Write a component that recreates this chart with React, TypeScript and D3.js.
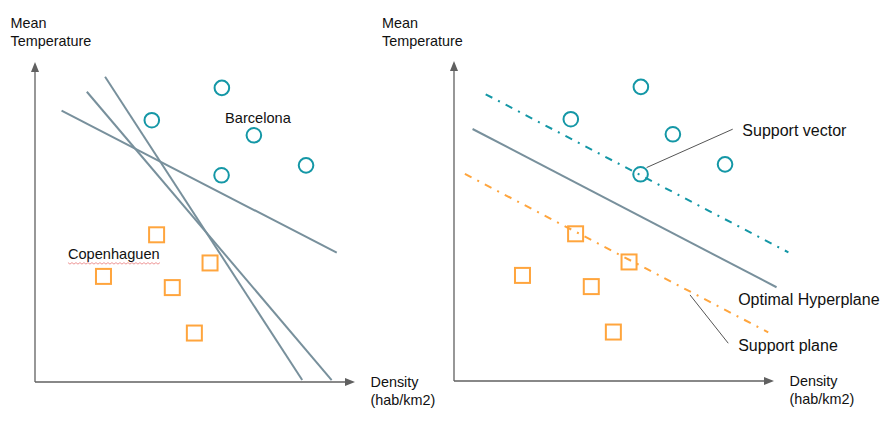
import React from "react";
import * as d3 from "d3";

// ---- data (arbitrary units: density 0-100, temperature 0-100) ----
const barcelonaDensity = [58.4, 36.5, 68.4, 58.3, 84.7];
const barcelonaTemp = [91.9, 81.8, 77.1, 64.6, 67.7];
const copenhagenDensity = [38.0, 21.4, 54.7, 42.9, 49.8];
const copenhagenTemp = [46.0, 33.0, 37.2, 29.5, 15.3];

// candidate separating lines (left panel): [x1, y1, x2, y2]
const candidateLines = [
  [8.3, 84.8, 94.3, 40.4],
  [16.2, 90.7, 92.7, 0.6],
  [21.9, 95.4, 83.5, 0.6],
];
// right panel lines
const optimalLine = [5.8, 78.75, 100.8, 29.3];
const upperSupport = [9.9, 89.6, 104.5, 40.2];
const lowerSupport = [3.4, 64.7, 98.2, 15.2];
const vectorLeader = [87.1, 78.7, 60.2, 66.7];
const planeLeader = [73.75, 26.9, 85.7, 11.8];

const yAxisLabel = ["Mean", "Temperature"];
const xAxisLabel = ["Density", "(hab/km2)"];

const TEAL = "#1497a6";
const ORANGE = "#ffa53d";
const GRAY = "#78909c";
const AXIS = "#606060";
const FONT = "'Liberation Sans', Arial, sans-serif";

type Panel = { ox: number; oy: number; labelX: number };

function Axes({ x, y, p }: { x: any; y: any; p: Panel }) {
  const x0 = x(0), y0 = y(0), xe = x(100), ye = y(100);
  return (
    <g>
      <line x1={x0} y1={y0} x2={xe - 8} y2={y0} stroke={AXIS} strokeWidth={1.3} />
      <path d={`M${xe},${y0} L${xe - 10},${y0 - 4} L${xe - 10},${y0 + 4} Z`} fill={AXIS} />
      <line x1={x0} y1={y0} x2={x0} y2={ye + 8} stroke={AXIS} strokeWidth={1.3} />
      <path d={`M${x0},${ye} L${x0 - 4},${ye + 10} L${x0 + 4},${ye + 10} Z`} fill={AXIS} />
      {yAxisLabel.map((t, i) => (
        <text key={t} x={p.labelX} y={28 + i * 18} fontSize={14.4} fontFamily={FONT} fill="#111">{t}</text>
      ))}
      {xAxisLabel.map((t, i) => (
        <text key={t} x={xe + 15.5} y={y0 + 5 + i * 17.5} fontSize={14.4} fontFamily={FONT} fill="#111">{t}</text>
      ))}
    </g>
  );
}

function Points({ x, y }: { x: any; y: any }) {
  return (
    <g>
      {barcelonaDensity.map((d, i) => (
        <circle key={"b" + i} cx={x(d)} cy={y(barcelonaTemp[i])} r={7.3} fill="none" stroke={TEAL} strokeWidth={2} />
      ))}
      {copenhagenDensity.map((d, i) => (
        <rect key={"c" + i} x={x(d) - 7.5} y={y(copenhagenTemp[i]) - 7.5} width={15} height={15} fill="none" stroke={ORANGE} strokeWidth={2} />
      ))}
    </g>
  );
}

function seg(l: number[], x: any, y: any, props: any, key?: string) {
  return <line key={key} x1={x(l[0])} y1={y(l[1])} x2={x(l[2])} y2={y(l[3])} {...props} />;
}

export default function App() {
  const left: Panel = { ox: 35, oy: 382, labelX: 10.5 };
  const right: Panel = { ox: 454, oy: 381, labelX: 382 };
  const mk = (p: Panel) => ({
    x: d3.scaleLinear().domain([0, 100]).range([p.ox, p.ox + 320]),
    y: d3.scaleLinear().domain([0, 100]).range([p.oy, p.oy - 320]),
  });
  const L = mk(left);
  const R = mk(right);

  // wavy spell-check underline under "Copenhaguen"
  const wx0 = L.x(10.3), wx1 = wx0 + 93, wy = L.y(38.4) + 3.5;
  let wave = `M${wx0},${wy}`;
  for (let xx = wx0 + 2, k = 0; xx <= wx1; xx += 2, k++) wave += ` L${xx},${wy + (k % 2 === 0 ? 1.5 : 0)}`;

  const dashDot = "7.5 6.5 2 6.5";

  return (
    <svg width={887} height={423} style={{ position: "absolute", left: 0, top: 0, background: "#fff" }}>
      {/* left panel */}
      <Axes x={L.x} y={L.y} p={left} />
      {candidateLines.map((l, i) => seg(l, L.x, L.y, { stroke: GRAY, strokeWidth: 2 }, "cl" + i))}
      <Points x={L.x} y={L.y} />
      <text x={L.x(59.4)} y={L.y(80.9)} fontSize={14.6} fontFamily={FONT} fill="#111">Barcelona</text>
      <text x={L.x(10.3)} y={L.y(38.4)} fontSize={14.6} fontFamily={FONT} fill="#111">Copenhaguen</text>
      <path d={wave} fill="none" stroke="#e97a7a" strokeWidth={0.8} />

      {/* right panel */}
      <Axes x={R.x} y={R.y} p={right} />
      {seg(upperSupport, R.x, R.y, { stroke: TEAL, strokeWidth: 2, strokeDasharray: dashDot })}
      {seg(lowerSupport, R.x, R.y, { stroke: ORANGE, strokeWidth: 2, strokeDasharray: dashDot })}
      {seg(optimalLine, R.x, R.y, { stroke: GRAY, strokeWidth: 2 })}
      <Points x={R.x} y={R.y} />
      {seg(vectorLeader, R.x, R.y, { stroke: "#555", strokeWidth: 1 })}
      {seg(planeLeader, R.x, R.y, { stroke: "#555", strokeWidth: 1 })}
      <text x={R.x(90.1)} y={R.y(76.6)} fontSize={16} fontFamily={FONT} fill="#111">Support vector</text>
      <text x={R.x(88.8)} y={R.y(23.75)} fontSize={16} fontFamily={FONT} fill="#111">Optimal Hyperplane</text>
      <text x={R.x(88.8)} y={R.y(9.4)} fontSize={16} fontFamily={FONT} fill="#111">Support plane</text>
    </svg>
  );
}
